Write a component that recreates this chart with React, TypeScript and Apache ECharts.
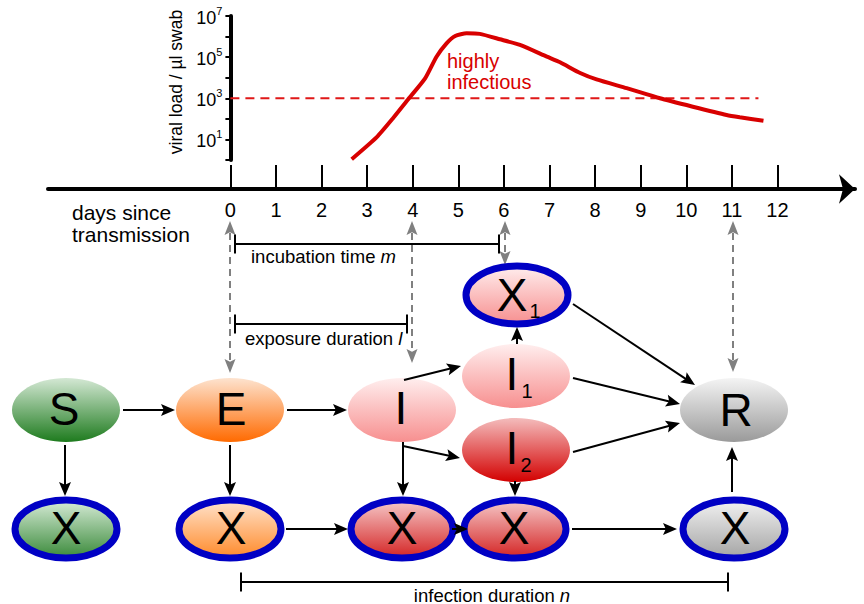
import React, { useEffect, useRef } from "react";
import * as echarts from "echarts";

const FONT = "'Liberation Sans', Arial, Helvetica, sans-serif";

// ---- data ----
const dayTicks = [0, 1, 2, 3, 4, 5, 6, 7, 8, 9, 10, 11, 12];
const curveDays = [2.66, 3.21, 3.57, 3.9, 4.27, 4.52, 4.74, 4.93, 5.18, 5.47, 5.91, 6.35, 6.94, 7.23, 7.67, 8.03, 8.69, 9.42, 10.14, 10.88, 11.17, 11.69];
const curveLoad = [1.1, 13, 110, 900, 9300, 1.05e5, 4.7e5, 1.07e6, 1.45e6, 1.35e6, 7.4e5, 3.9e5, 1.05e5, 5.6e4, 1.7e4, 8.3e3, 3.1e3, 1.0e3, 390, 155, 120, 81];
const thresholdDays = [0, 11.58];
const thresholdLoad = 1000;
const loadMin = 1;
const loadMax = 1e7;
const yAxisTitle = "viral load / µl swab";
const dayAxisTitle = ["days since", "transmission"];
const infectiousLabel = ["highly", "infectious"];

const RED = "#d80000";
const BLUE = "#0000c4";
const GRAY = "#808080";

type NodeDef = { label: string; sub?: string; cx: number; cy: number; tx: number; ty: number; sx?: number; sy?: number; top: string; bottom: string; ring?: boolean };

const nodes: NodeDef[] = [
  { label: "S", cx: 66, cy: 410, tx: 64, ty: 409, top: "#d4e8d4", bottom: "#1e7b1e" },
  { label: "E", cx: 230, cy: 410, tx: 231, ty: 409, top: "#fde3cf", bottom: "#ff6a00" },
  { label: "I", cx: 402, cy: 410, tx: 401, ty: 408, top: "#ffeeee", bottom: "#f78f8f" },
  { label: "I", sub: "1", cx: 516, cy: 376, tx: 512, ty: 374, sx: 527, sy: 391, top: "#ffeeee", bottom: "#f78f8f" },
  { label: "I", sub: "2", cx: 516, cy: 450, tx: 512, ty: 448, sx: 526, sy: 465, top: "#f4bcbc", bottom: "#d30000" },
  { label: "R", cx: 734, cy: 410, tx: 736, ty: 410, top: "#f4f4f4", bottom: "#9a9a9a" },
  { label: "X", sub: "1", cx: 517, cy: 295, tx: 512, ty: 295, sx: 535, sy: 311, top: "#ffeeee", bottom: "#f78f8f", ring: true },
  { label: "X", cx: 66, cy: 529, tx: 66, ty: 528, top: "#d8ecd8", bottom: "#3a8a3a", ring: true },
  { label: "X", cx: 230, cy: 529, tx: 231, ty: 528, top: "#ffe4ce", bottom: "#ff8a2a", ring: true },
  { label: "X", cx: 402, cy: 529, tx: 402, ty: 528, top: "#f6caca", bottom: "#d42424", ring: true },
  { label: "X", cx: 515, cy: 529, tx: 514, ty: 528, top: "#f6caca", bottom: "#d42424", ring: true },
  { label: "X", cx: 734, cy: 529, tx: 735, ty: 528, top: "#f2f2f2", bottom: "#a4a4a4", ring: true },
];

const blackArrows: number[][] = [
  [123, 410, 175, 410],
  [287, 410, 347, 410],
  [404, 380, 461, 366],
  [403, 446, 460, 458],
  [517, 344, 517, 327],
  [573, 304, 695, 385],
  [573, 378, 680, 404],
  [573, 452, 680, 423],
  [65, 445, 65, 496],
  [230, 445, 230, 496],
  [403, 442, 403, 496],
  [515, 481, 515, 496],
  [732, 492, 732, 447],
  [286, 529, 348, 529],
  [452, 529, 468, 529],
  [572, 529, 677, 529],
];

const grayArrows: number[][] = [
  [230, 221, 373],
  [412, 221, 363],
  [505, 221, 265],
  [733, 221, 372],
];

const brackets = [
  { x1: 235, x2: 499, y: 244, text: "incubation time ", ital: "m", tx: 251, ty: 256, align: "left" },
  { x1: 235, x2: 407, y: 324, text: "exposure duration ", ital: "l", tx: 245, ty: 338, align: "left" },
  { x1: 241, x2: 728, y: 582, text: "infection duration ", ital: "n", tx: 492, ty: 595, align: "center" },
];

const grad = (top: string, bottom: string) => ({
  type: "linear", x: 0, y: 0, x2: 0, y2: 1,
  colorStops: [{ offset: 0, color: top }, { offset: 1, color: bottom }],
});

function head(x1: number, y1: number, x2: number, y2: number, color: string, L: number, W: number, z: number) {
  const d = Math.hypot(x2 - x1, y2 - y1) || 1;
  const ux = (x2 - x1) / d, uy = (y2 - y1) / d;
  const bx = x2 - ux * L, by = y2 - uy * L;
  const nx = -uy, ny = ux;
  return {
    type: "polygon", z,
    shape: { points: [[x2, y2], [bx + nx * W, by + ny * W], [x2 - ux * L * 0.8, y2 - uy * L * 0.8], [bx - nx * W, by - ny * W]] },
    style: { fill: color },
  };
}

function arrow(a: number[], color: string, z: number) {
  const [x1, y1, x2, y2] = a;
  const d = Math.hypot(x2 - x1, y2 - y1) || 1;
  const ux = (x2 - x1) / d, uy = (y2 - y1) / d;
  const L = Math.min(14, d);
  return [
    { type: "line", z, shape: { x1, y1, x2: x2 - ux * L * 0.7, y2: y2 - uy * L * 0.7 }, style: { stroke: color, lineWidth: 2 } },
    head(x1, y1, x2, y2, color, L, 6, z),
  ];
}

function buildGraphics() {
  const els: any[] = [];
  els.push({ type: "text", x: 72, y: 223, z: 20, style: { text: dayAxisTitle.join("\n"), fontSize: 21, lineHeight: 22, fontFamily: FONT, fill: "#000", align: "left", verticalAlign: "middle" } });
  els.push({ type: "text", x: 447, y: 71, z: 20, style: { text: infectiousLabel.join("\n"), fontSize: 20, lineHeight: 21, fontFamily: FONT, fill: RED, align: "left", verticalAlign: "middle" } });
  grayArrows.forEach(([x, yTop, yBot]) => {
    els.push({ type: "line", z: 8, shape: { x1: x, y1: yTop + 12, x2: x, y2: yBot - 12 }, style: { stroke: GRAY, lineWidth: 2, lineDash: [7, 5] } });
    els.push(head(x, yBot, x, yTop, GRAY, 14, 5.5, 8));
    els.push(head(x, yTop, x, yBot, GRAY, 14, 5.5, 8));
  });
  brackets.forEach((b) => {
    els.push({ type: "line", z: 9, shape: { x1: b.x1, y1: b.y, x2: b.x2, y2: b.y }, style: { stroke: "#000", lineWidth: 2 } });
    els.push({ type: "line", z: 9, shape: { x1: b.x1, y1: b.y - 9.5, x2: b.x1, y2: b.y + 9.5 }, style: { stroke: "#000", lineWidth: 2 } });
    els.push({ type: "line", z: 9, shape: { x1: b.x2, y1: b.y - 9.5, x2: b.x2, y2: b.y + 9.5 }, style: { stroke: "#000", lineWidth: 2 } });
    els.push({
      type: "text", x: b.tx, y: b.ty, z: 20,
      style: {
        text: `{a|${b.text}}{i|${b.ital}}`, align: b.align, verticalAlign: "middle",
        rich: {
          a: { fontSize: 18.5, fontFamily: FONT, fill: "#000", color: "#000" },
          i: { fontSize: 18.5, fontFamily: FONT, fontStyle: "italic", fill: "#000", color: "#000" },
        },
      },
    });
  });
  nodes.forEach((n) => {
    els.push({
      type: "ellipse", z: 10,
      shape: { cx: n.cx, cy: n.cy, rx: n.ring ? 51 : 54, ry: n.ring ? 29 : 32 },
      style: { fill: grad(n.top, n.bottom), stroke: n.ring ? BLUE : null, lineWidth: n.ring ? 7 : 0 },
    });
    els.push({ type: "text", x: n.tx, y: n.ty, z: 12, style: { text: n.label, fontSize: 46, fontFamily: FONT, fill: "#000", align: "center", verticalAlign: "middle" } });
    if (n.sub) {
      els.push({ type: "text", x: n.sx, y: n.sy, z: 12, style: { text: n.sub, fontSize: 20, fontFamily: FONT, fill: "#000", align: "center", verticalAlign: "middle" } });
    }
  });
  blackArrows.forEach((a) => els.push(...arrow(a, "#000", 14)));
  return els;
}

export default function App() {
  const ref = useRef<HTMLDivElement>(null);
  useEffect(() => {
    if (!ref.current) return;
    const chart = echarts.init(ref.current, null, { renderer: "svg" });
    const option: any = {
      animation: false,
      backgroundColor: "#fff",
      grid: [
        { left: 230.4, top: 16, width: 547.2, height: 144 },
        { left: 48, top: 150, width: 807, height: 39 },
      ],
      xAxis: [
        { gridIndex: 0, type: "value", min: 0, max: 12, show: false },
        {
          gridIndex: 1, type: "value", min: -4, max: 13.7,
          axisLine: { show: true, onZero: false, symbol: ["none", "arrow"], symbolSize: [22, 16], lineStyle: { color: "#000", width: 4 } },
          axisTick: { show: true, inside: true, length: 24, customValues: dayTicks, lineStyle: { color: "#000", width: 2 } },
          axisLabel: { show: true, customValues: dayTicks, fontSize: 20, fontFamily: FONT, color: "#000", margin: 11 },
          splitLine: { show: false },
        },
      ],
      yAxis: [
        {
          gridIndex: 0, type: "log", logBase: 10, min: loadMin, max: loadMax,
          name: yAxisTitle, nameLocation: "middle", nameRotate: 90, nameGap: 44,
          nameTextStyle: { fontSize: 17.5, fontFamily: FONT, color: "#000", padding: [0, 0, 0, 12] },
          axisLine: { show: true, lineStyle: { color: "#000", width: 4 } },
          axisTick: { show: true, inside: false, length: 5, lineStyle: { color: "#000", width: 2 } },
          axisLabel: {
            show: true, margin: 8, showMinLabel: true, showMaxLabel: true,
            formatter: (v: number) => {
              const e = Math.round(Math.log10(v));
              if (e % 2 === 0) return "";
              return `{b|10}{s|${e}}`;
            },
            rich: {
              b: { fontSize: 18, fontFamily: FONT, color: "#000", lineHeight: 22, verticalAlign: "bottom" },
              s: { fontSize: 11, fontFamily: FONT, color: "#000", lineHeight: 11, verticalAlign: "top" },
            },
          },
          splitLine: { show: false },
        },
        { gridIndex: 1, type: "value", show: false, min: 0, max: 1 },
      ],
      series: [
        {
          type: "line", xAxisIndex: 0, yAxisIndex: 0, z: 4,
          data: thresholdDays.map((d) => [d, thresholdLoad]),
          showSymbol: false, silent: true,
          lineStyle: { color: "#e01818", width: 2, type: [9, 6] },
        },
        {
          type: "line", xAxisIndex: 0, yAxisIndex: 0, z: 5,
          data: curveDays.map((d, i) => [d, curveLoad[i]]),
          showSymbol: false, smooth: 0.2, silent: true,
          lineStyle: { color: RED, width: 4 },
        },
      ],
      graphic: { elements: buildGraphics() },
    };
    chart.setOption(option);
    return () => chart.dispose();
  }, []);
  return <div ref={ref} style={{ width: 864, height: 604, position: "absolute", left: 0, top: 0 }} />;
}
